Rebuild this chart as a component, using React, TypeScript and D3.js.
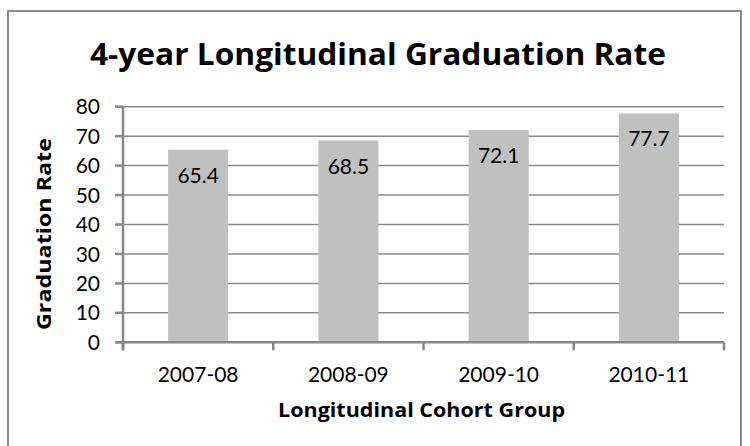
import React from "react";
import * as d3 from "d3";

const categories = ["2007-08", "2008-09", "2009-10", "2010-11"];
const values = [65.4, 68.5, 72.1, 77.7];
const yTicks = [0, 10, 20, 30, 40, 50, 60, 70, 80];

const title = "4-year Longitudinal Graduation Rate";
const xTitle = "Longitudinal Cohort Group";
const yTitle = "Graduation Rate";

const W = 750;
const H = 446;
const FONT = "Lato, 'Open Sans', sans-serif";
const BOLD = "'Open Sans', Lato, sans-serif";

export default function App() {
  const left = 123;
  const right = 724;
  const x = d3
    .scaleBand<string>()
    .domain(categories)
    .range([left, right])
    .paddingInner(0.6)
    .paddingOuter(0.3);
  const y = d3.scaleLinear().domain([0, 80]).range([342.3, 106.7]);
  const step = x.step();
  const boundaries = d3.range(categories.length + 1).map((i) => left + i * step);
  const gridColor = "#8a8a8a";
  const axisColor = "#878787";

  return (
    <div style={{ position: "fixed", left: 0, top: 0 }}>
      <svg width={W} height={H} style={{ display: "block", background: "#fff" }}>
        <rect x={8} y={11} width={733} height={460} fill="#fff" stroke="#8c8c8c" strokeWidth={2} />
        <text
          x={90}
          y={65}
          textLength={576}
          lengthAdjust="spacingAndGlyphs"
          fontFamily={BOLD}
          fontWeight={700}
          fontSize={30}
          fill="#000"
        >
          {title}
        </text>
        {yTicks
          .filter((t) => t !== 0)
          .map((t) => (
            <line key={"g" + t} x1={left} x2={right} y1={y(t)} y2={y(t)} stroke={gridColor} strokeWidth={1.5} />
          ))}
        {values.map((v, i) => (
          <rect
            key={"b" + i}
            x={x(categories[i])!}
            y={y(v)}
            width={x.bandwidth()}
            height={y(0) - y(v)}
            fill="#c0c0c0"
          />
        ))}
        {values.map((v, i) => (
          <text
            key={"l" + i}
            x={x(categories[i])! + x.bandwidth() / 2}
            y={y(v) + 33}
            textAnchor="middle"
            fontFamily={FONT}
            fontSize={21}
            fill="#000"
          >
            {v.toFixed(1)}
          </text>
        ))}
        {/* y axis */}
        <line x1={left} x2={left} y1={y(80)} y2={y(0) + 8} stroke={axisColor} strokeWidth={2.5} />
        {yTicks.map((t) => (
          <line key={"yt" + t} x1={left - 8} x2={left} y1={y(t)} y2={y(t)} stroke={axisColor} strokeWidth={2.5} />
        ))}
        {yTicks.map((t) => (
          <text
            key={"yl" + t}
            x={100}
            y={y(t)}
            dy="0.36em"
            textAnchor="end"
            fontFamily={FONT}
            fontSize={21}
            fill="#000"
          >
            {t}
          </text>
        ))}
        {/* x axis */}
        <line x1={left - 8} x2={right} y1={y(0)} y2={y(0)} stroke={axisColor} strokeWidth={2.5} />
        {boundaries.map((b, i) => (
          <line key={"xt" + i} x1={b} x2={b} y1={y(0)} y2={y(0) + 8} stroke={axisColor} strokeWidth={2.5} />
        ))}
        {categories.map((c) => (
          <text
            key={"xl" + c}
            x={x(c)! + x.bandwidth() / 2}
            y={382}
            textAnchor="middle"
            fontFamily={FONT}
            fontSize={21}
            fill="#000"
          >
            {c}
          </text>
        ))}
        <text
          x={278}
          y={417}
          textLength={287}
          lengthAdjust="spacingAndGlyphs"
          fontFamily={BOLD}
          fontWeight={700}
          fontSize={20}
          fill="#000"
        >
          {xTitle}
        </text>
        <text
          transform={`translate(51, 330) rotate(-90)`}
          textLength={192}
          lengthAdjust="spacingAndGlyphs"
          fontFamily={BOLD}
          fontWeight={700}
          fontSize={20}
          fill="#000"
        >
          {yTitle}
        </text>
      </svg>
    </div>
  );
}
